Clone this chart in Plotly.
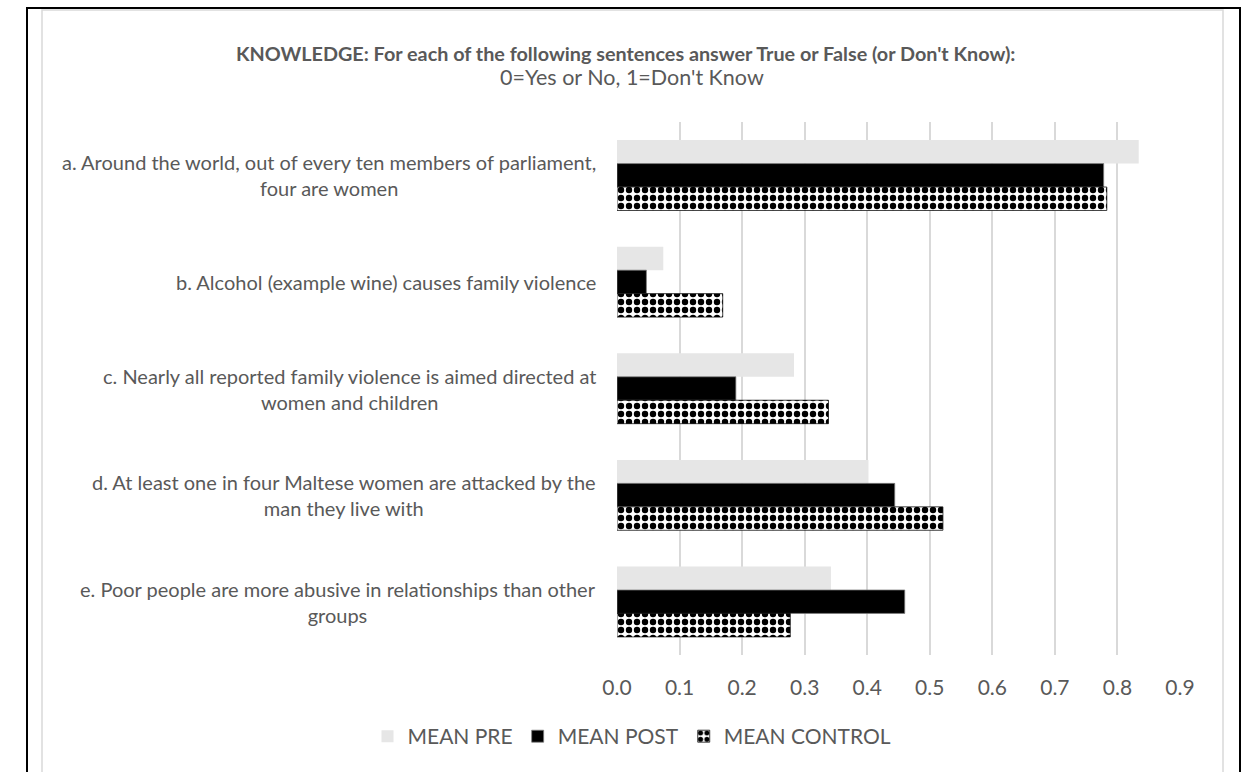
import plotly.graph_objects as go

# Survey items (top to bottom) and the three group means
categories = [
    "a. Around the world, out of every ten members of parliament,<br>four are women",
    "b. Alcohol (example wine) causes family violence",
    "c. Nearly all reported family violence is aimed directed at<br>women and children",
    "d. At least one in four Maltese women are attacked by the<br>man they live with",
    "e. Poor people are more abusive in relationships than other<br>groups",
]
cat_keys = ["a", "b", "c", "d", "e"]
mean_pre = [0.834, 0.074, 0.283, 0.402, 0.342]
mean_post = [0.778, 0.047, 0.190, 0.444, 0.460]
mean_control = [0.783, 0.169, 0.338, 0.521, 0.277]
x_ticks = [0.0, 0.1, 0.2, 0.3, 0.4, 0.5, 0.6, 0.7, 0.8, 0.9]

FONT = "Lato"
GREY_TEXT = "#595959"
W, H = 1249, 772
L, R, T, B = 617, 69, 122, 117

fig = go.Figure()
fig.add_trace(go.Bar(
    y=cat_keys, x=mean_pre, name="MEAN PRE", orientation="h",
    marker=dict(color="#e6e6e6", line=dict(width=0)),
))
fig.add_trace(go.Bar(
    y=cat_keys, x=mean_post, name="MEAN POST", orientation="h",
    marker=dict(color="#000000", line=dict(color="#7f7f7f", width=0.75)),
))
fig.add_trace(go.Bar(
    y=cat_keys, x=mean_control, name="MEAN CONTROL", orientation="h",
    marker=dict(
        color="#ffffff",
        line=dict(color="#000000", width=0.75),
        pattern=dict(shape=".", fgcolor="#000000", bgcolor="#ffffff",
                     size=8, solidity=0.5, fillmode="replace"),
    ),
))

# Centered, right-anchored category labels
annotations = []
for key, label in zip(cat_keys, categories):
    annotations.append(dict(
        xref="paper", x=0, xshift=-19, xanchor="right",
        yref="y", y=key, yanchor="middle",
        text=label, align="center", showarrow=False,
        font=dict(family=FONT, size=20, color=GREY_TEXT),
    ))

# Title and subtitle
title_x = (632 - L) / (W - L - R)
annotations.append(dict(
    xref="paper", x=title_x, xshift=-7, xanchor="center",
    yref="paper", y=1, yshift=T - 53, yanchor="middle",
    text="<b>KNOWLEDGE: For each of the following sentences answer True or False (or Don't Know):</b>",
    showarrow=False, font=dict(family=FONT, size=19.8, color=GREY_TEXT),
))
annotations.append(dict(
    xref="paper", x=title_x, xanchor="center",
    yref="paper", y=1, yshift=T - 77, yanchor="middle",
    text="0=Yes or No, 1=Don't Know",
    showarrow=False, font=dict(family=FONT, size=21.5, color=GREY_TEXT),
))

# Outer black frame and inner light chart-area frame
shapes = [
    dict(type="rect", xref="paper", yref="paper", xsizemode="pixel", ysizemode="pixel",
         xanchor=0, yanchor=1, x0=27 - L, x1=1240 - L, y0=-(H - T) - 20, y1=T - 8,
         line=dict(color="#000000", width=2), fillcolor="rgba(0,0,0,0)", layer="below"),
    dict(type="rect", xref="paper", yref="paper", xsizemode="pixel", ysizemode="pixel",
         xanchor=0, yanchor=1, x0=42 - L, x1=1223 - L, y0=-(H - T) - 20, y1=T - 10,
         line=dict(color="#d9d9d9", width=1.5), fillcolor="rgba(0,0,0,0)", layer="below"),
]

fig.update_layout(
    width=W, height=H,
    margin=dict(l=L, r=R, t=T, b=B),
    paper_bgcolor="#ffffff", plot_bgcolor="#ffffff",
    barmode="group", bargap=0.34, bargroupgap=0,
    font=dict(family=FONT, color=GREY_TEXT),
    xaxis=dict(
        range=[0, 0.9], tickvals=x_ticks, tickformat=".1f",
        showgrid=True, gridcolor="#d9d9d9", gridwidth=1.5,
        zeroline=False, showline=False, ticks="",
        tickfont=dict(family=FONT, size=21, color=GREY_TEXT),
        ticklabelstandoff=18,
    ),
    yaxis=dict(
        categoryorder="array", categoryarray=cat_keys, autorange="reversed",
        showticklabels=False, showgrid=False, zeroline=False, showline=False, ticks="",
    ),
    legend=dict(
        orientation="h", x=title_x, xanchor="center", y=-0.153, yanchor="middle",
        font=dict(family=FONT, size=21, color=GREY_TEXT),
        traceorder="normal", itemwidth=30,
    ),
    annotations=annotations, shapes=shapes,
)

fig.write_html("out.html")
